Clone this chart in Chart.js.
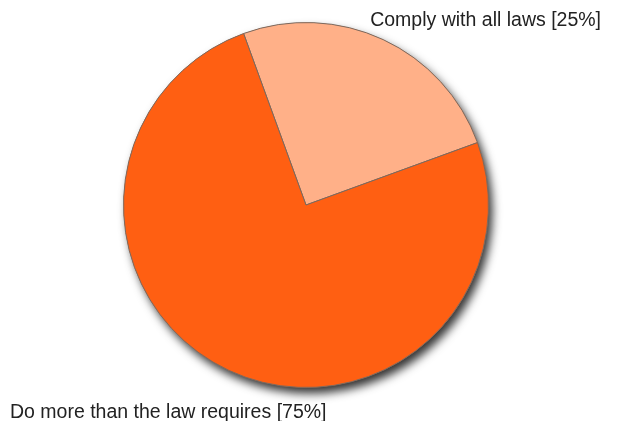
<!DOCTYPE html>
<html>
<head>
<meta charset="utf-8">
<script src="https://cdn.jsdelivr.net/npm/chart.js@4.4.0/dist/chart.umd.min.js"></script>
<style>
  html, body { margin: 0; padding: 0; background: #fff; }
  #wrap { width: 618px; height: 421px; position: relative; }
</style>
</head>
<body>
<div id="wrap"><canvas id="pie"></canvas></div>
<script>
// veriler
const categories = ['Comply with all laws', 'Do more than the law requires'];
const shares = [25, 75];
const sliceColors = ['#ffb088', '#ff5f12'];

// gölge: tüm daireyi bir kez gölgeli çiz
const shadowPlugin = {
    id: 'pieShadow',
    beforeDatasetsDraw(chart) {
        const arc = chart.getDatasetMeta(0).data[0];
        if (!arc) return;
        const ctx = chart.ctx;
        ctx.save();
        ctx.shadowColor = 'rgba(0,0,0,0.8)';
        ctx.shadowBlur = 10;
        ctx.shadowOffsetX = 4;
        ctx.shadowOffsetY = 6;
        ctx.beginPath();
        ctx.arc(arc.x, arc.y, arc.outerRadius, 0, Math.PI * 2);
        ctx.fillStyle = '#ff5f12';
        ctx.fill();
        ctx.restore();
    }
};

// etiketler
const labelPlugin = {
    id: 'cornerLabels',
    afterDraw(chart) {
        const ctx = chart.ctx;
        ctx.save();
        ctx.font = '19.5px "Liberation Sans", Arial, sans-serif';
        ctx.fillStyle = '#222';
        ctx.textBaseline = 'alphabetic';
        ctx.textAlign = 'right';
        ctx.fillText(`${categories[0]} [${shares[0]}%]`, 601, 26);
        ctx.textAlign = 'left';
        ctx.fillText(`${categories[1]} [${shares[1]}%]`, 10, 418);
        ctx.restore();
    }
};

new Chart(document.getElementById('pie').getContext('2d'), {
    type: 'pie',
    data: {
        labels: categories,
        datasets: [{
            data: shares,
            backgroundColor: sliceColors,
            borderColor: '#7a6a60',
            borderWidth: 1
        }]
    },
    options: {
        responsive: true,
        maintainAspectRatio: false,
        animation: false,
        rotation: -20,
        layout: { padding: { left: 123, right: 129, top: 22, bottom: 33 } },
        plugins: {
            legend: { display: false },
            tooltip: { enabled: false }
        }
    },
    plugins: [shadowPlugin, labelPlugin]
});
</script>
</body>
</html>
